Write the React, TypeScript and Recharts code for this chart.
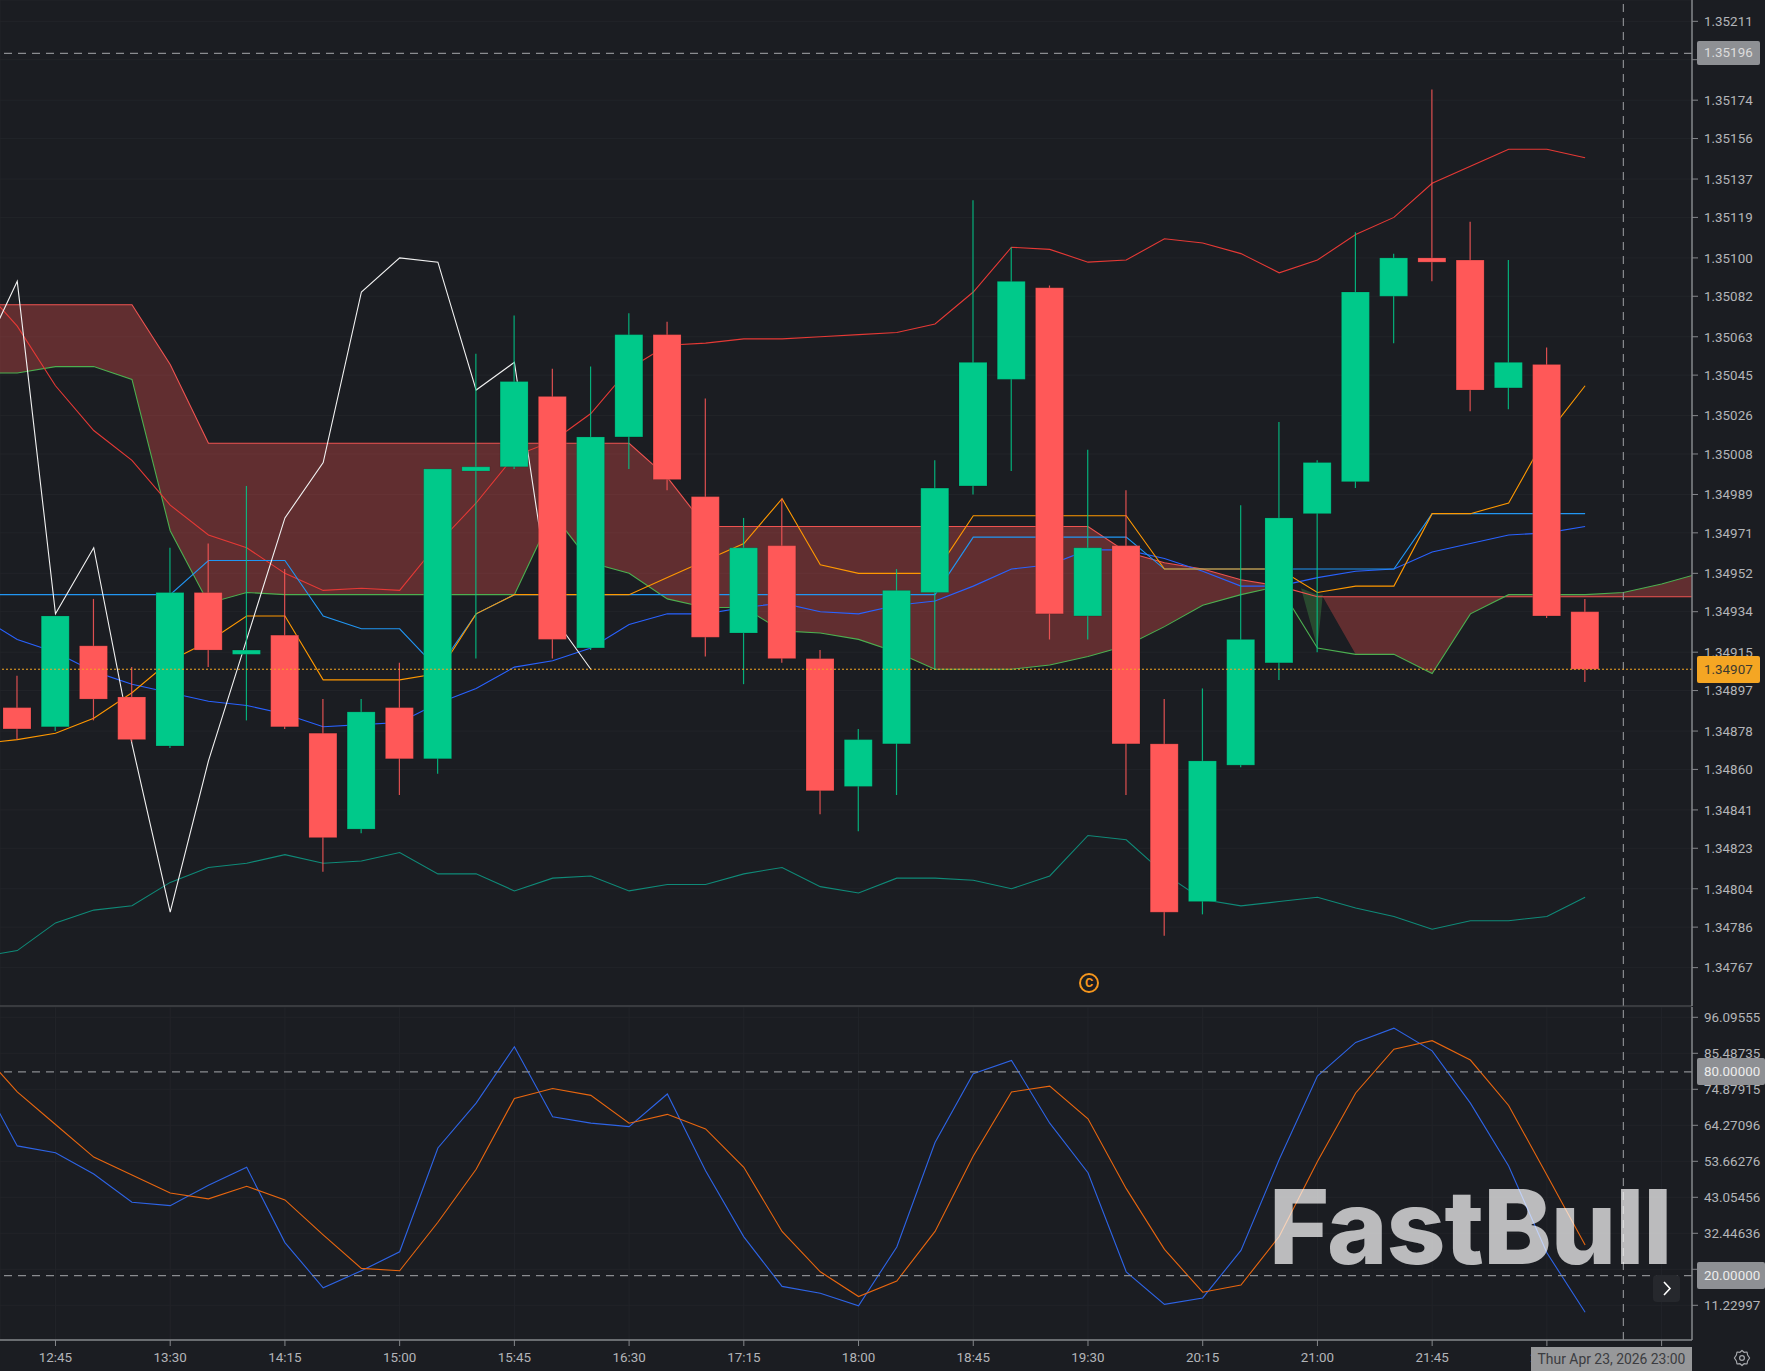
import React from 'react';
import {
  Area,
  Bar,
  CartesianGrid,
  ComposedChart,
  Line,
  ReferenceLine,
  XAxis,
  YAxis,
} from 'recharts';

const BG = '#1b1d22';
const UP = '#00c98a';
const DOWN = '#ff5858';
const FONT = 'Roboto, sans-serif';
const BODY_WIDTH = 28;

// candles, index 0..41 (15 min bars)
const open = [1.34889, 1.3488, 1.34918, 1.34894, 1.34871, 1.34943, 1.34914, 1.34923, 1.34877, 1.34832, 1.34889, 1.34865, 1.35, 1.35002, 1.35035, 1.34917, 1.35016, 1.35064, 1.34988, 1.34924, 1.34965, 1.34912, 1.34852, 1.34872, 1.34943, 1.34993, 1.35043, 1.35086, 1.34932, 1.34965, 1.34872, 1.34798, 1.34862, 1.3491, 1.3498, 1.34995, 1.35082, 1.351, 1.35099, 1.35039, 1.3505, 1.34934];
const close = [1.34879, 1.34932, 1.34893, 1.34874, 1.34943, 1.34916, 1.34916, 1.3488, 1.34828, 1.34887, 1.34865, 1.35001, 1.35002, 1.35042, 1.34921, 1.35016, 1.35064, 1.34996, 1.34922, 1.34964, 1.34912, 1.3485, 1.34874, 1.34944, 1.34992, 1.35051, 1.35089, 1.34933, 1.34964, 1.34872, 1.34793, 1.34864, 1.34921, 1.34978, 1.35004, 1.35084, 1.351, 1.35098, 1.35038, 1.35051, 1.34932, 1.34907];
const high = [1.34904, 1.34932, 1.3494, 1.34908, 1.34964, 1.34966, 1.34993, 1.34954, 1.34893, 1.34893, 1.3491, 1.35001, 1.35055, 1.35073, 1.35048, 1.35049, 1.35074, 1.3507, 1.35034, 1.34978, 1.34987, 1.34916, 1.34879, 1.34954, 1.35005, 1.35127, 1.35105, 1.35087, 1.3501, 1.34991, 1.34893, 1.34898, 1.34984, 1.35023, 1.35005, 1.35112, 1.35102, 1.35179, 1.35117, 1.35099, 1.35058, 1.3494];
const low = [1.34874, 1.34878, 1.34883, 1.34873, 1.3487, 1.34908, 1.34883, 1.34879, 1.34812, 1.3483, 1.34848, 1.34858, 1.34912, 1.35001, 1.34912, 1.34916, 1.35001, 1.34991, 1.34913, 1.349, 1.3491, 1.34839, 1.34831, 1.34848, 1.34907, 1.34989, 1.35, 1.34921, 1.34921, 1.34848, 1.34782, 1.34792, 1.34861, 1.34902, 1.34915, 1.34992, 1.3506, 1.35089, 1.35028, 1.35029, 1.34931, 1.34901];

// overlays, index -1..41
const bollUpper = [1.35088, 1.35068, 1.3504, 1.35019, 1.35005, 1.34984, 1.3497, 1.34964, 1.34952, 1.34944, 1.34945, 1.34944, 1.34966, 1.34985, 1.35007, 1.35014, 1.35027, 1.35048, 1.35059, 1.3506, 1.35062, 1.35062, 1.35063, 1.35064, 1.35065, 1.35069, 1.35084, 1.35105, 1.35104, 1.35098, 1.35099, 1.35109, 1.35107, 1.35102, 1.35093, 1.35099, 1.35111, 1.35119, 1.35135, 1.35143, 1.35151, 1.35151, 1.35147];
const bollMid = [1.34932, 1.34921, 1.34915, 1.34906, 1.349, 1.34896, 1.34892, 1.3489, 1.34886, 1.3488, 1.34881, 1.34882, 1.34891, 1.34898, 1.34908, 1.34911, 1.34917, 1.34928, 1.34933, 1.34933, 1.34936, 1.34938, 1.34934, 1.34933, 1.34937, 1.34939, 1.34946, 1.34954, 1.34956, 1.34963, 1.34963, 1.34959, 1.34953, 1.34946, 1.34946, 1.3495, 1.34953, 1.34954, 1.34962, 1.34966, 1.3497, 1.34971, 1.34974];
const bollLower = [1.34772, 1.34775, 1.34788, 1.34794, 1.34796, 1.34807, 1.34814, 1.34816, 1.3482, 1.34816, 1.34817, 1.34821, 1.34811, 1.34811, 1.34803, 1.34809, 1.3481, 1.34803, 1.34806, 1.34806, 1.34811, 1.34814, 1.34805, 1.34802, 1.34809, 1.34809, 1.34808, 1.34804, 1.3481, 1.34829, 1.34827, 1.34811, 1.34799, 1.34796, 1.34798, 1.348, 1.34795, 1.34791, 1.34785, 1.34789, 1.34789, 1.34791, 1.348];
const kijun = [1.34942, 1.34942, 1.34942, 1.34942, 1.34942, 1.34942, 1.34958, 1.34958, 1.34958, 1.34932, 1.34926, 1.34926, 1.34907, 1.34933, 1.34942, 1.34942, 1.34942, 1.34942, 1.34942, 1.34942, 1.34942, 1.34942, 1.34942, 1.34942, 1.34942, 1.34942, 1.34969, 1.34969, 1.34969, 1.34969, 1.34969, 1.34954, 1.34954, 1.34954, 1.34954, 1.34954, 1.34954, 1.34954, 1.3498, 1.3498, 1.3498, 1.3498, 1.3498];
const tenkan = [1.34872, 1.34874, 1.34877, 1.34884, 1.34896, 1.34911, 1.3492, 1.34932, 1.34932, 1.34902, 1.34902, 1.34902, 1.34905, 1.34933, 1.34942, 1.34942, 1.34942, 1.34942, 1.3495, 1.34958, 1.34966, 1.34987, 1.34956, 1.34952, 1.34952, 1.34952, 1.34979, 1.34979, 1.34979, 1.34979, 1.34979, 1.34954, 1.34954, 1.34954, 1.34954, 1.34943, 1.34946, 1.34946, 1.3498, 1.3498, 1.34985, 1.35017, 1.3504];
// lagging line, index -1..15
const chikou = [1.35051, 1.35089, 1.34933, 1.34964, 1.34872, 1.34793, 1.34864, 1.34921, 1.34978, 1.35004, 1.35084, 1.351, 1.35098, 1.35038, 1.35051, 1.34932, 1.34907];
// cloud edges, index -1..44
const cloudTop = [1.35078, 1.35078, 1.35078, 1.35078, 1.35078, 1.3505, 1.35013, 1.35013, 1.35013, 1.35013, 1.35013, 1.35013, 1.35013, 1.35013, 1.35013, 1.35013, 1.35013, 1.35013, 1.34997, 1.34974, 1.34974, 1.34974, 1.34974, 1.34974, 1.34974, 1.34974, 1.34974, 1.34974, 1.34974, 1.34974, 1.34962, 1.34957, 1.34954, 1.34949, 1.34946, 1.34941, 1.34941, 1.34941, 1.34941, 1.34941, 1.34941, 1.34941, 1.34941, 1.34941, 1.34941, 1.34941];
const cloudBottom = [1.35046, 1.35046, 1.35049, 1.35049, 1.35043, 1.34972, 1.34938, 1.34943, 1.34942, 1.34942, 1.34942, 1.34942, 1.34942, 1.34942, 1.34942, 1.3498, 1.34957, 1.34952, 1.3494, 1.34936, 1.34936, 1.34925, 1.34924, 1.34921, 1.34915, 1.34907, 1.34907, 1.34907, 1.34909, 1.34913, 1.34918, 1.34927, 1.34937, 1.34942, 1.34946, 1.34917, 1.34914, 1.34914, 1.34905, 1.34933, 1.34942, 1.34942, 1.34942, 1.34943, 1.34947, 1.34952];

// oscillator, index -1..41
const stochK = [79.1, 58.2, 56.2, 49.9, 41.6, 40.6, 46.6, 51.9, 29.7, 16.4, 21.4, 27.0, 57.6, 70.8, 87.4, 66.8, 64.9, 63.9, 73.5, 50.9, 31.4, 16.8, 14.8, 11.1, 28.4, 59.2, 79.5, 83.4, 64.9, 50.3, 21.1, 11.5, 13.4, 27.4, 54.2, 78.8, 88.7, 92.9, 86.2, 70.8, 52.3, 26.7, 9.2];
const stochD = [86.7, 74.1, 64.5, 54.9, 49.6, 44.3, 42.6, 46.3, 42.3, 32.0, 22.1, 21.4, 35.7, 51.3, 72.2, 75.1, 73.1, 64.9, 67.5, 63.2, 51.9, 33.0, 21.1, 13.8, 18.4, 33.0, 55.2, 74.1, 75.8, 66.2, 45.6, 27.7, 15.1, 17.2, 31.5, 53.6, 73.8, 86.7, 89.2, 83.5, 70.1, 49.6, 29.0];

const priceTicks = [1.35211, 1.35193, 1.35174, 1.35156, 1.35137, 1.35119, 1.351, 1.35082, 1.35063, 1.35045, 1.35026, 1.35008, 1.34989, 1.34971, 1.34952, 1.34934, 1.34915, 1.34897, 1.34878, 1.3486, 1.34841, 1.34823, 1.34804, 1.34786, 1.34767];
const oscTicks = [96.09555, 85.48735, 74.87915, 64.27096, 53.66276, 43.05456, 32.44636, 21.83817, 11.22997];
const timeTicks = [1, 4, 7, 10, 13, 16, 19, 22, 25, 28, 31, 34, 37, 40, 43];
const timeLabels = ['12:45', '13:30', '14:15', '15:00', '15:45', '16:30', '17:15', '18:00', '18:45', '19:30', '20:15', '21:00', '21:45', '22:30', '23:15'];

const LAST_PRICE = 1.34907;
const DASHED_PRICE = 1.35196;
const CROSSHAIR = 42;
const X_DOMAIN = [-0.451, 43.795];

const rows: any[] = [];
for (let i = -1; i <= 44; i++) {
  rows.push({
    x: i,
    open: open[i],
    close: close[i],
    high: high[i],
    low: low[i],
    bollUpper: bollUpper[i + 1],
    bollMid: bollMid[i + 1],
    bollLower: bollLower[i + 1],
    kijun: kijun[i + 1],
    tenkan: tenkan[i + 1],
    chikou: chikou[i + 1],
    top: cloudTop[i + 1],
    bottom: cloudBottom[i + 1],
    band: [cloudBottom[i + 1], cloudTop[i + 1]],
    k: stochK[i + 1],
    d: stochD[i + 1],
  });
}

const cloudLeft = rows.filter(r => r.x <= 33);
const cloudRight = [{ x: 34.14, band: [1.34941, 1.34941] }, ...rows.filter(r => r.x >= 35)];
const cloudFlip = [
  { x: 33.57, band: [1.34945, 1.34945] },
  { x: 34, band: [1.34917, 1.34942] },
  { x: 34.14, band: [1.34942, 1.34942] },
];

function Candle(props: any) {
  const { x, y, width, height, payload } = props;
  if (payload.open == null) return null;
  const { open: o, close: c, high: h, low: l } = payload;
  const color = c >= o ? UP : DOWN;
  const perUnit = height / (h - l);
  const bodyTop = y + (h - Math.max(o, c)) * perUnit;
  const bodyH = Math.max(Math.abs(o - c) * perUnit, 3.5);
  const mid = x + width / 2;
  return (
    <g>
      <line x1={mid} x2={mid} y1={y} y2={y + height} stroke={color} strokeOpacity={0.85} strokeWidth={1.2} />
      <rect x={mid - BODY_WIDTH / 2} y={bodyTop} width={BODY_WIDTH} height={bodyH} fill={color} stroke="rgba(0,0,0,0.15)" strokeWidth={1} />
    </g>
  );
}

const tickStyle = { fill: '#b3b5b9', fontSize: 13.4, fontFamily: FONT };

function Badge({ top, height, left, right, text, bg, color }: any) {
  return (
    <div
      style={{
        position: 'absolute',
        top,
        left,
        right,
        height,
        lineHeight: `${height}px`,
        background: bg,
        color,
        borderRadius: 2,
        fontFamily: FONT,
        fontSize: 13.4,
        paddingLeft: 7,
        textAlign: 'left',
        whiteSpace: 'nowrap',
      }}
    >
      {text}
    </div>
  );
}

export default function App() {
  const lineProps = { dot: false, activeDot: false, isAnimationActive: false, type: 'linear' as const, strokeWidth: 1.1, legendType: 'none' as const };
  return (
    <div style={{ position: 'absolute', left: 0, top: 0, width: 1765, height: 1371, background: BG, overflow: 'hidden' }}>
      <div style={{ position: 'absolute', left: 0, top: 0 }}>
        <ComposedChart width={1765} height={1007} data={rows} margin={{ top: 0, right: 0, bottom: 0, left: 0 }}>
          <CartesianGrid stroke="#222429" strokeWidth={1} />
          <XAxis
            dataKey="x"
            type="number"
            domain={X_DOMAIN}
            allowDataOverflow
            ticks={timeTicks}
            tick={false}
            tickLine={false}
            height={1}
            axisLine={{ stroke: '#55575b' }}
          />
          <YAxis
            orientation="right"
            width={73}
            domain={[1.34749, 1.35221]}
            allowDataOverflow
            ticks={priceTicks}
            interval={0}
            tickFormatter={(v: number) => v.toFixed(5)}
            tick={tickStyle}
            tickSize={6}
            tickMargin={6}
            axisLine={{ stroke: '#85878b', strokeWidth: 1.5 }}
            tickLine={{ stroke: '#85878b' }}
          />
          <Area data={cloudLeft} dataKey="band" type="linear" stroke="none" fill="#ef5350" fillOpacity={0.33} isAnimationActive={false} dot={false} activeDot={false} />
          <Area data={cloudRight} dataKey="band" type="linear" stroke="none" fill="#ef5350" fillOpacity={0.33} isAnimationActive={false} dot={false} activeDot={false} />
          <Area data={cloudFlip} dataKey="band" type="linear" stroke="none" fill="#4caf50" fillOpacity={0.3} isAnimationActive={false} dot={false} activeDot={false} />
          <Line {...lineProps} dataKey="top" stroke="#ef5350" />
          <Line {...lineProps} dataKey="bottom" stroke="#4caf50" />
          <Line {...lineProps} dataKey="bollUpper" stroke="#e53935" />
          <Line {...lineProps} dataKey="bollMid" stroke="#2962ff" />
          <Line {...lineProps} dataKey="bollLower" stroke="#0f8a78" />
          <Line {...lineProps} dataKey="kijun" stroke="#2196f3" />
          <Line {...lineProps} dataKey="tenkan" stroke="#ff9800" />
          <Line {...lineProps} dataKey="chikou" stroke="#f2f2f2" />
          <Bar dataKey={(r: any) => [r.low, r.high]} barSize={28} shape={<Candle />} isAnimationActive={false} zIndex={450} />
          <ReferenceLine y={DASHED_PRICE} stroke="#8a8c90" strokeWidth={1.2} strokeDasharray="8 6" />
          <ReferenceLine y={LAST_PRICE} stroke="#f5a623" strokeDasharray="2 2" zIndex={460} />
          <ReferenceLine x={CROSSHAIR} stroke="#8a8c90" strokeWidth={1.2} strokeDasharray="8 6" />
        </ComposedChart>
      </div>
      <div style={{ position: 'absolute', left: 0, top: 1007 }}>
        <ComposedChart width={1765} height={364} data={rows} margin={{ top: 0, right: 0, bottom: 0, left: 0 }}>
          <CartesianGrid stroke="#222429" strokeWidth={1} />
          <XAxis
            dataKey="x"
            type="number"
            domain={X_DOMAIN}
            allowDataOverflow
            ticks={timeTicks}
            interval={0}
            tickFormatter={(v: number) => timeLabels[timeTicks.indexOf(v)]}
            tick={tickStyle}
            tickSize={6}
            tickMargin={6}
            height={31}
            axisLine={{ stroke: '#85878b', strokeWidth: 1.5 }}
            tickLine={{ stroke: '#85878b' }}
          />
          <YAxis
            orientation="right"
            width={73}
            domain={[1.005, 99.13]}
            allowDataOverflow
            ticks={oscTicks}
            interval={0}
            tickFormatter={(v: number) => v.toFixed(5)}
            tick={tickStyle}
            tickSize={6}
            tickMargin={6}
            axisLine={{ stroke: '#85878b', strokeWidth: 1.5 }}
            tickLine={{ stroke: '#85878b' }}
          />
          <Line {...lineProps} dataKey="k" stroke="#2e64e6" />
          <Line {...lineProps} dataKey="d" stroke="#e8660f" />
          <ReferenceLine y={80} stroke="#8a8c90" strokeWidth={1.2} strokeDasharray="8 6" />
          <ReferenceLine y={20} stroke="#8a8c90" strokeWidth={1.2} strokeDasharray="8 6" />
          <ReferenceLine x={CROSSHAIR} stroke="#8a8c90" strokeWidth={1.2} strokeDasharray="8 6" />
        </ComposedChart>
      </div>

      <Badge top={41} height={24} left={1697} right={5} text="1.35196" bg="#8e9094" color="#dcdcdc" />
      <Badge top={656} height={27} left={1697} right={5} text="1.34907" bg="#f5a623" color="#3d3a30" />
      <Badge top={1058} height={27} left={1697} right={0} text="80.00000" bg="#8e9094" color="#ececec" />
      <Badge top={1262} height={27} left={1697} right={0} text="20.00000" bg="#8e9094" color="#ececec" />
      <div style={{ position: 'absolute', left: 1531, top: 1347, width: 161, height: 24, lineHeight: '24px', background: '#97989a', color: '#3b3c40', fontFamily: FONT, fontSize: 13.9, textAlign: 'center', whiteSpace: 'nowrap' }}>
        Thur Apr 23, 2026 23:00
      </div>

      <div style={{ position: 'absolute', left: 1269, top: 1164, fontFamily: 'Inter, sans-serif', fontWeight: 800, fontSize: 103, letterSpacing: -1, lineHeight: '126px', color: 'rgba(255,255,255,0.7)', whiteSpace: 'nowrap' }}>
        FastBull
      </div>

      <div style={{ position: 'absolute', left: 1079, top: 973, width: 20, height: 20, boxSizing: 'border-box', border: '2.3px solid #f5961d', borderRadius: '50%', color: '#f5961d', fontFamily: FONT, fontSize: 12.5, fontWeight: 700, lineHeight: '15px', textAlign: 'center' }}>
        C
      </div>

      <div style={{ position: 'absolute', left: 1653, top: 1275, width: 27, height: 27, background: '#26282d', borderRadius: 4 }}>
        <svg width={27} height={27}>
          <path d="M11 7 L17 13.5 L11 20" fill="none" stroke="#fff" strokeWidth={1.6} />
        </svg>
      </div>
      <svg style={{ position: 'absolute', left: 1733, top: 1349 }} width={18} height={18} viewBox="0 0 18 18">
        <circle cx={9} cy={9} r={2.4} fill="none" stroke="#a8aaae" strokeWidth={1.2} />
        <path d="M9 1.5 L11 3.3 L14 3 L14.6 6 L16.6 9 L14.6 12 L14 15 L11 14.7 L9 16.5 L7 14.7 L4 15 L3.4 12 L1.4 9 L3.4 6 L4 3 L7 3.3 Z" fill="none" stroke="#a8aaae" strokeWidth={1.2} strokeLinejoin="round" />
      </svg>
    </div>
  );
}
